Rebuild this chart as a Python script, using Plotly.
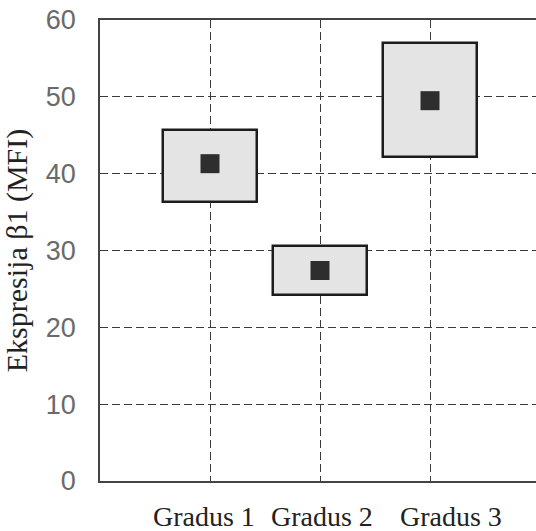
import plotly.graph_objects as go

categories = ["Gradus 1", "Gradus 2", "Gradus 3"]
cat_pos = [1, 2, 3]
box_low = [36.3, 24.2, 42.2]
box_high = [45.7, 30.6, 57.0]
means = [41.3, 27.4, 49.5]
y_ticks = [0, 10, 20, 30, 40, 50, 60]
label_shift = [-6, 2, 21]

heights = [h - l for h, l in zip(box_high, box_low)]

fig = go.Figure()
fig.add_trace(go.Bar(
    x=cat_pos, y=heights, base=box_low, width=0.86,
    marker=dict(color="#e4e4e4", line=dict(color="#1c1c1c", width=2.5)),
    hoverinfo="skip", showlegend=False,
))
fig.add_trace(go.Scatter(
    x=cat_pos, y=means, mode="markers",
    marker=dict(symbol="square", size=19, color="#2e2e2e", line=dict(width=0)),
    showlegend=False,
))

for c, p, s in zip(categories, cat_pos, label_shift):
    fig.add_annotation(
        x=p, y=0, xref="x", yref="paper", yanchor="top", yshift=-18, xshift=s,
        text=c, showarrow=False,
        font=dict(family="Liberation Serif", size=28, color="#222"),
    )

fig.update_layout(
    width=536, height=531,
    margin=dict(l=100, r=0, t=20, b=50),
    plot_bgcolor="white", paper_bgcolor="white",
    bargap=0,
    xaxis=dict(
        range=[0, 436 / 110], tickvals=cat_pos, showticklabels=False, ticks="",
        showgrid=True, gridcolor="#3a3a3a", gridwidth=1.4, griddash="8px,4px",
        showline=True, linecolor="#444", linewidth=1.5, mirror=True, zeroline=False,
        fixedrange=True,
    ),
    yaxis=dict(
        range=[0, 60], tickvals=y_ticks, ticks="",
        showgrid=True, gridcolor="#3a3a3a", gridwidth=1.4, griddash="8px,4px",
        showline=True, linecolor="#444", linewidth=1.5, zeroline=False,
        tickfont=dict(family="Liberation Sans", size=27, color="#6a6a6a"),
        ticklabelstandoff=17,
        title=dict(text="Ekspresija β1 (MFI)", standoff=12,
                   font=dict(family="Liberation Serif", size=30, color="#222")),
    ),
)

fig.write_html("out.html")
